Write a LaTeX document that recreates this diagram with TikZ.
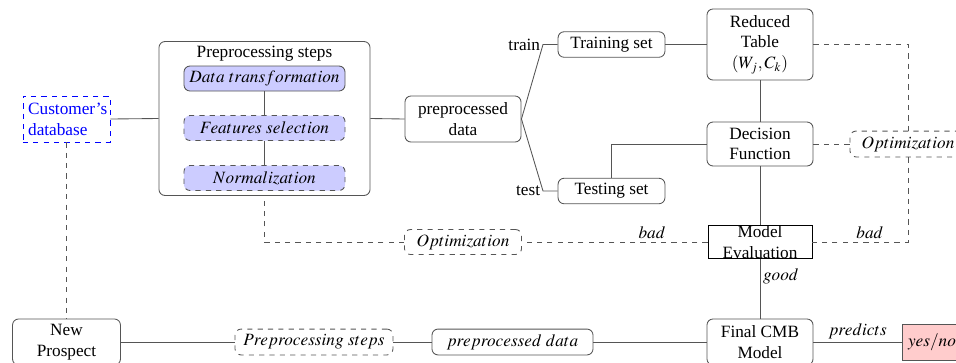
\documentclass[tikz,border=0pt]{standalone}
\usepackage{mathptmx}
\usepackage{fontspec}
\setmainfont{Liberation Serif}
\usepackage{xcolor}
\usepackage{tikz}
\usetikzlibrary{calc}
\definecolor{lav}{HTML}{CCCCFF}
\definecolor{rose}{HTML}{FFCCCC}
\definecolor{edge}{HTML}{555555}
\tikzset{
  box/.style={draw=edge, line width=0.5pt, rounded corners=3.5pt, align=center, inner sep=2.5pt},
  dbox/.style={box, dashed},
  part/.style={box, fill=lav, minimum width=93.4pt, minimum height=14.5pt},
  link/.style={draw=edge, line width=0.5pt},
  dlink/.style={link, dashed},
  lab/.style={inner sep=1.5pt},
}
\begin{document}
\begin{tikzpicture}[x=0.58pt,y=-0.58pt]
  \path[use as bounding box, clip] (0,0) rectangle (956,362);
  % preprocessing block
  \node[draw=blue, dashed, line width=0.5pt, text=blue, text width=44.5pt, inner xsep=3pt, inner ysep=3pt, minimum height=26.7pt, align=left] (cust) at (66.5,119) {Customer's\\database};
  \node[box, minimum width=122.4pt, minimum height=89.3pt] (prep) at (264.5,118.5) {};
  \node (ptitle) at (264.5,54) {Preprocessing steps};
  \node[part] (dt) at (264.5,78.5) {$Data\ transformation$};
  \node[part, dashed] (fs) at (264.5,128) {$Features\ selection$};
  \node[part, dashed] (nm) at (264.5,178) {$Normalization$};
  \node[box, minimum width=67.3pt, minimum height=26.7pt] (pd) at (463,119) {preprocessed\\data};
  % training / testing
  \node[box, minimum width=62pt, minimum height=14.8pt] (trs) at (611.5,44.5) {Training set};
  \node[box, minimum width=62pt, minimum height=14.8pt] (tss) at (611.5,191) {Testing set};
  \node[box, minimum width=61.5pt, minimum height=41.2pt] (rt) at (760,44.5) {Reduced\\Table\\$(W_j,C_k)$};
  \node[box, minimum width=61.5pt, minimum height=25.5pt] (df) at (760,144) {Decision\\Function};
  \node[dbox, minimum width=67.3pt, minimum height=15pt] (opt1) at (908,144) {$Optimization$};
  \node[draw, line width=0.5pt, inner sep=0pt, minimum width=60.3pt, minimum height=18.6pt, align=center] (me) at (760,242) {Model\\Evaluation};
  \node[dbox, minimum width=67.9pt, minimum height=14.5pt] (opt2) at (463,242) {$Optimization$};
  % prediction row
  \node[box, minimum width=62.6pt, minimum height=26.7pt] (np) at (66.5,342) {New\\Prospect};
  \node[dbox, minimum width=91.6pt, minimum height=15pt] (ps) at (314,342) {$Preprocessing\ steps$};
  \node[box, minimum width=93.4pt, minimum height=15pt] (pd2) at (512.5,342) {$preprocessed\ data$};
  \node[box, minimum width=61.5pt, minimum height=26.7pt] (fm) at (760,342) {Final CMB\\Model};
  \node[draw=edge, line width=0.5pt, fill=rose, minimum width=33.6pt, minimum height=20.9pt] (yn) at (932,342) {$yes/no$};

  \coordinate (trk) at (543,44.5);
  \coordinate (tsk) at (543,191);
  \node[lab, left] (trainlab) at (trk) {train};
  \node[lab, left] (testlab) at (tsk) {test};

  \draw[link] (cust.east) -- (prep.west);
  \draw[link] (prep.east) -- (pd.west);
  \draw[link] (dt.south) -- (fs.north);
  \draw[link] (fs.south) -- (nm.north);
  \draw[link] (pd.east) -- (trk) -- (trs.west);
  \draw[link] (pd.east) -- (tsk) -- (tss.west);
  \draw[link] (trs.east) -- (rt.west);
  \draw[link] (rt.south) -- (df.north);
  \draw[link] (tss.north) |- (df.west);
  \draw[link] (df.south) -- (me.north);
  \draw[link] (me.south) -- node[lab, right, pos=0.3] (goodlab) {$good$} (fm.north);
  \draw[link] (np.east) -- (ps.west);
  \draw[link] (ps.east) -- (pd2.west);
  \draw[link] (pd2.east) -- (fm.west);
  \draw[link] (fm.east) -- node[lab, above] (predlab) {$predicts$} (yn.west);

  \draw[dlink] (rt.east) -| (opt1.north);
  \draw[dlink] (df.east) -- (opt1.west);
  \draw[dlink] (opt1.south) |- node[lab, above, pos=0.7] (badr) {$bad$} (me.east);
  \draw[dlink] (me.west) -- node[lab, above, pos=0.3] (badl) {$bad$} (opt2.east);
  \draw[dlink] (opt2.west) -| (prep.south);
  \draw[dlink] (cust.south) -- (np.north);
\end{tikzpicture}
\end{document}
